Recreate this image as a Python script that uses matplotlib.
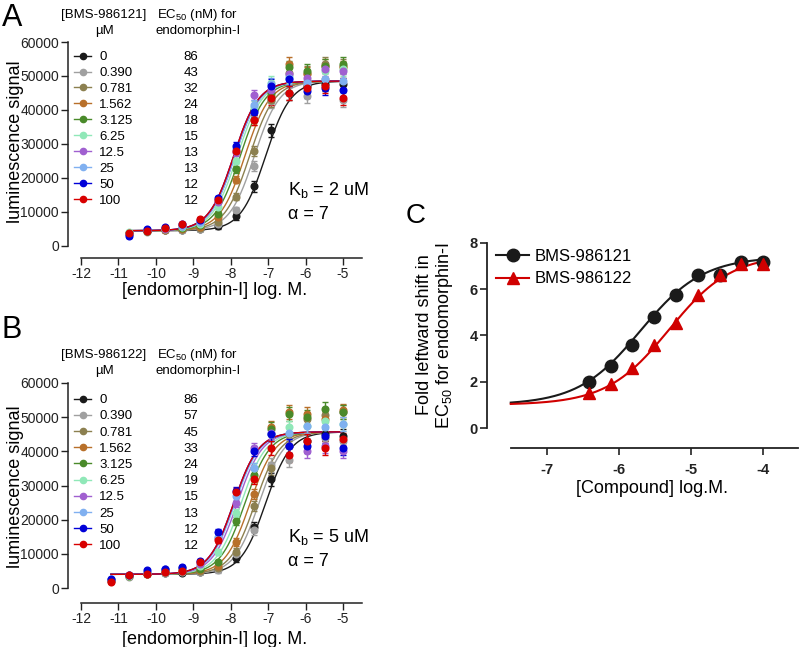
import numpy as np
import matplotlib
matplotlib.use("Agg")
import matplotlib.pyplot as plt
from matplotlib.lines import Line2D

plt.rcParams['font.family'] = ['Liberation Sans', 'DejaVu Sans']
plt.rcParams['mathtext.fontset'] = 'custom'
plt.rcParams['mathtext.rm'] = 'Liberation Sans'
plt.rcParams['mathtext.it'] = 'Liberation Sans:italic'
plt.rcParams['axes.unicode_minus'] = False

# ---- data ----
conc_labels = ['0', '0.390', '0.781', '1.562', '3.125', '6.25', '12.5', '25', '50', '100']
colors = ['#1a1a1a', '#a0a0a0', '#8c8050', '#b8702a', '#4a8a2a',
          '#90e8b8', '#a060d0', '#80b0f0', '#0000d8', '#d80000']

# panel A (BMS-986121)
ec50_A = [86, 43, 32, 24, 18, 15, 13, 13, 12, 12]   # nM
xa = [-10.72, -10.25, -9.77, -9.29, -8.82, -8.34, -7.86, -7.39, -6.91, -6.43, -5.95, -5.48, -5.00]
a0 = [3600, 4300, 4600, 4700, 5000, 5800, 8700, 17500, 34000, 45000, 47000, 47500, 47500]
a1 = [3700, 4200, 4600, 4800, 5100, 6500, 10500, 23500, 42500, 45000, 44000, 49000, 43000]
a2 = [3800, 4300, 4700, 4900, 5300, 7000, 14500, 28000, 43000, 51000, 51000, 53500, 53000]
a3 = [3900, 4400, 4800, 5000, 5700, 8500, 19500, 37000, 44000, 53500, 50500, 53000, 52500]
a4 = [3900, 4500, 4900, 5300, 6200, 9500, 22500, 40000, 45000, 52500, 51500, 53000, 53500]
a5 = [4000, 4600, 5000, 5600, 6600, 11500, 25000, 41000, 48000, 50000, 48500, 51500, 52000]
a6 = [3600, 4600, 5100, 5800, 7000, 13000, 27500, 44500, 46000, 50500, 49500, 52000, 51500]
a7 = [3500, 4700, 5200, 5900, 7200, 13500, 28500, 41500, 47500, 49500, 48000, 49000, 48500]
a8 = [2800, 5000, 5500, 6400, 7500, 14000, 29500, 39500, 47000, 49000, 45500, 46500, 46000]
a9 = [3800, 4400, 5200, 6500, 7800, 13500, 28000, 37000, 43500, 45000, 46500, 47000, 43500]
errA = [400, 400, 400, 500, 600, 700, 1000, 1500, 2000, 2000, 2000, 2000, 2000]
bottom_A, top_A, hill_A = 4500, 48500, 1.3

# panel B (BMS-986122)
ec50_B = [86, 57, 45, 33, 24, 19, 15, 13, 12, 12]
xb = [-11.20, -10.72, -10.25, -9.77, -9.29, -8.82, -8.34, -7.86, -7.39, -6.91, -6.43, -5.95, -5.48, -5.00]
b0 = [2200, 3500, 4000, 4300, 4500, 4700, 5500, 8700, 17800, 31800, 41500, 43000, 45000, 44500]
b1 = [2000, 3300, 4000, 4400, 4600, 4800, 5200, 10000, 17000, 36000, 37500, 43000, 44000, 43000]
b2 = [2100, 3400, 4100, 4800, 5000, 5000, 6000, 10500, 24000, 35000, 45000, 49500, 50500, 51500]
b3 = [2200, 3500, 4200, 5000, 5500, 5200, 6500, 13500, 27500, 47000, 51500, 51000, 49500, 52000]
b4 = [2300, 3600, 4300, 5200, 6000, 5500, 7500, 19500, 33000, 46500, 51000, 50000, 52500, 51500]
b5 = [2300, 3600, 4400, 5300, 5800, 6500, 10500, 22000, 35000, 45000, 47000, 47500, 49000, 48000]
b6 = [2400, 3700, 4500, 5500, 5900, 7000, 14500, 25000, 41000, 45500, 41500, 40000, 41500, 40000]
b7 = [2500, 3700, 4700, 5500, 6000, 7500, 15000, 27000, 35000, 45000, 45500, 47500, 47000, 48000]
b8 = [2600, 3700, 5200, 5600, 6200, 8000, 16500, 28500, 40000, 45000, 41500, 41500, 44500, 41000]
b9 = [1800, 3700, 4000, 4700, 5000, 7500, 14000, 28000, 32000, 41000, 39000, 43000, 41000, 43500]
errB = [400, 400, 400, 400, 500, 600, 800, 1200, 1500, 2000, 2000, 2000, 2000, 2000]
bottom_B, top_B, hill_B = 4000, 45700, 1.3

# panel C
conc_log = [-6.41, -6.11, -5.81, -5.51, -5.20, -4.90, -4.60, -4.30, -4.00]
shift_121 = [2.0, 2.69, 3.58, 4.78, 5.73, 6.62, 6.62, 7.17, 7.17]
shift_122 = [1.51, 1.91, 2.61, 3.58, 4.53, 5.73, 6.62, 7.1, 7.1]
kb_121, kb_122 = 2e-6, 5e-6
alpha_121, alpha_122 = 7.4, 7.5


def px(x, y):
    return (x / 800, 1 - y / 647)


def sigmoid(x, ec50_nm, bottom, top, hill):
    return bottom + (top - bottom) / (1 + 10 ** (hill * (np.log10(ec50_nm * 1e-9) - x)))


def fold(x, kb, alpha):
    r = 10 ** x / kb
    return (1 + alpha * r) / (1 + r)


fig = plt.figure(figsize=(8, 6.47), dpi=100)


def dose_panel(rect, xs, series, err, ec50s, bottom, top, hill, ylo, compound, kb,
               hdr_y, leg_y, kb_y, lspace):
    ax = fig.add_axes(rect)
    xfit = np.linspace(xs[0], xs[-1], 300)
    for ys, c, ec in zip(series, colors, ec50s):
        ax.plot(xfit, sigmoid(xfit, ec, bottom, top, hill), color=c, lw=1, zorder=2)
    for ys, c in zip(series, colors):
        ax.errorbar(xs, ys, yerr=err, fmt='o', color=c, ms=4.8, capsize=2,
                    elinewidth=1, capthick=1, zorder=3)
    ax.set_xlim(-12.35, -4.49)
    ax.set_ylim(ylo, 60000)
    ax.set_xticks(range(-12, -4))
    ax.set_yticks(range(0, 60001, 10000))
    for s in ['top', 'right']:
        ax.spines[s].set_visible(False)
    ax.spines['left'].set_bounds(0, 60000)
    ax.spines['bottom'].set_bounds(-12, -4.49)
    for s in ['left', 'bottom']:
        ax.spines[s].set_linewidth(1.1)
        ax.spines[s].set_color('#222222')
    ax.tick_params(direction='out', length=5, width=1, labelsize=10, colors='#222222', pad=1.5)
    ax.set_ylabel('luminescence signal', fontsize=13, ha='center', va='center')
    ax.set_xlabel('[endomorphin-I] log. M.', fontsize=13, ha='center', va='center')

    h1 = [Line2D([], [], color=c, marker='o', ms=4.5, lw=1) for c in colors]
    h2 = [Line2D([], [], ls='none') for _ in colors]
    ax.legend(h1 + h2, conc_labels + [str(v) for v in ec50s], ncol=2,
              loc='upper left', bbox_to_anchor=px(74, leg_y), bbox_transform=fig.transFigure,
              frameon=False, fontsize=9.5, handlelength=1.3, handletextpad=0.6,
              labelspacing=lspace, columnspacing=2.0, borderpad=0, borderaxespad=0)

    fig.text(*px(104, hdr_y), '[%s]' % compound, fontsize=9.5, ha='center', va='center')
    fig.text(*px(105, hdr_y + 16), '\u00b5M', fontsize=9.5, ha='center', va='center')
    fig.text(*px(198, hdr_y), 'EC$_{50}$ (nM) for', fontsize=9.5, ha='center', va='center')
    fig.text(*px(198, hdr_y + 16), 'endomorphin-I', fontsize=9.5, ha='center', va='center')
    fig.text(*px(288, kb_y), 'K$_{\\mathrm{b}}$ = %d uM' % kb, fontsize=13, va='baseline')
    fig.text(*px(288, kb_y + 24), '\u03b1 = 7', fontsize=13, va='baseline')
    return ax


axA = dose_panel([68 / 800, 1 - 258 / 647, 294 / 800, 216 / 647], xa,
                 [a0, a1, a2, a3, a4, a5, a6, a7, a8, a9], errA, ec50_A,
                 bottom_A, top_A, hill_A, -3530, 'BMS-986121', 2, 15, 51, 195, 0.28)
axA.yaxis.set_label_coords(-0.18, 0.537)
axA.xaxis.set_label_coords(0.5, -0.152)

axB = dose_panel([68 / 800, 1 - 603 / 647, 294 / 800, 220 / 647], xb,
                 [b0, b1, b2, b3, b4, b5, b6, b7, b8, b9], errB, ec50_B,
                 bottom_B, top_B, hill_B, -4390, 'BMS-986122', 5, 355, 394, 542, 0.30)
axB.yaxis.set_label_coords(-0.18, 0.527)
axB.xaxis.set_label_coords(0.5, -0.168)

# panel C
axC = fig.add_axes([487 / 800, 1 - 448 / 647, 311 / 800, 205.3 / 647])
xc = np.linspace(-7.5, -4.0, 300)
axC.plot(xc, fold(xc, kb_121, alpha_121), color='#1a1a1a', lw=1.5, zorder=2)
axC.plot(xc, fold(xc, kb_122, alpha_122), color='#d00000', lw=1.5, zorder=2)
axC.plot(conc_log, shift_121, 'o', color='#1a1a1a', ms=9, zorder=3)
axC.plot(conc_log, shift_122, '^', color='#d00000', ms=9, zorder=4)
axC.set_xlim(-7.83, -3.51)
axC.set_ylim(-0.86, 8)
axC.set_xticks([-7, -6, -5, -4])
axC.set_yticks([0, 2, 4, 6, 8])
for s in ['top', 'right']:
    axC.spines[s].set_visible(False)
axC.spines['left'].set_bounds(0, 8)
axC.spines['bottom'].set_bounds(-7.5, -3.51)
for s in ['left', 'bottom']:
    axC.spines[s].set_linewidth(1.3)
    axC.spines[s].set_color('#222222')
axC.tick_params(direction='out', length=5, width=1.2, labelsize=10.5, colors='#222222', pad=1.5)
axC.tick_params(axis='x', pad=6)
for lab in axC.get_xticklabels() + axC.get_yticklabels():
    lab.set_fontweight('bold')
axC.set_ylabel('Fold leftward shift in\nEC$_{50}$ for endomorphin-I', fontsize=13,
               ha='center', va='center', linespacing=1.1)
axC.yaxis.set_label_coords(-0.165, 0.55)
axC.set_xlabel('[Compound] log.M.', fontsize=13, ha='center', va='center')
axC.xaxis.set_label_coords(0.53, -0.195)
hC = [Line2D([], [], color='#1a1a1a', marker='o', ms=9, lw=1.5),
      Line2D([], [], color='#d00000', marker='^', ms=9, lw=1.5)]
axC.legend(hC, ['BMS-986121', 'BMS-986122'], loc='upper left',
           bbox_to_anchor=px(496, 249), bbox_transform=fig.transFigure,
           frameon=False, fontsize=12, handlelength=2.0, handletextpad=0.3,
           labelspacing=0.45, borderpad=0, borderaxespad=0)

fig.text(*px(2, 26), 'A', fontsize=22, va='baseline')
fig.text(*px(2, 338), 'B', fontsize=22, va='baseline')
fig.text(*px(406, 223), 'C', fontsize=20, va='baseline')

fig.savefig('out.png', dpi=100)
